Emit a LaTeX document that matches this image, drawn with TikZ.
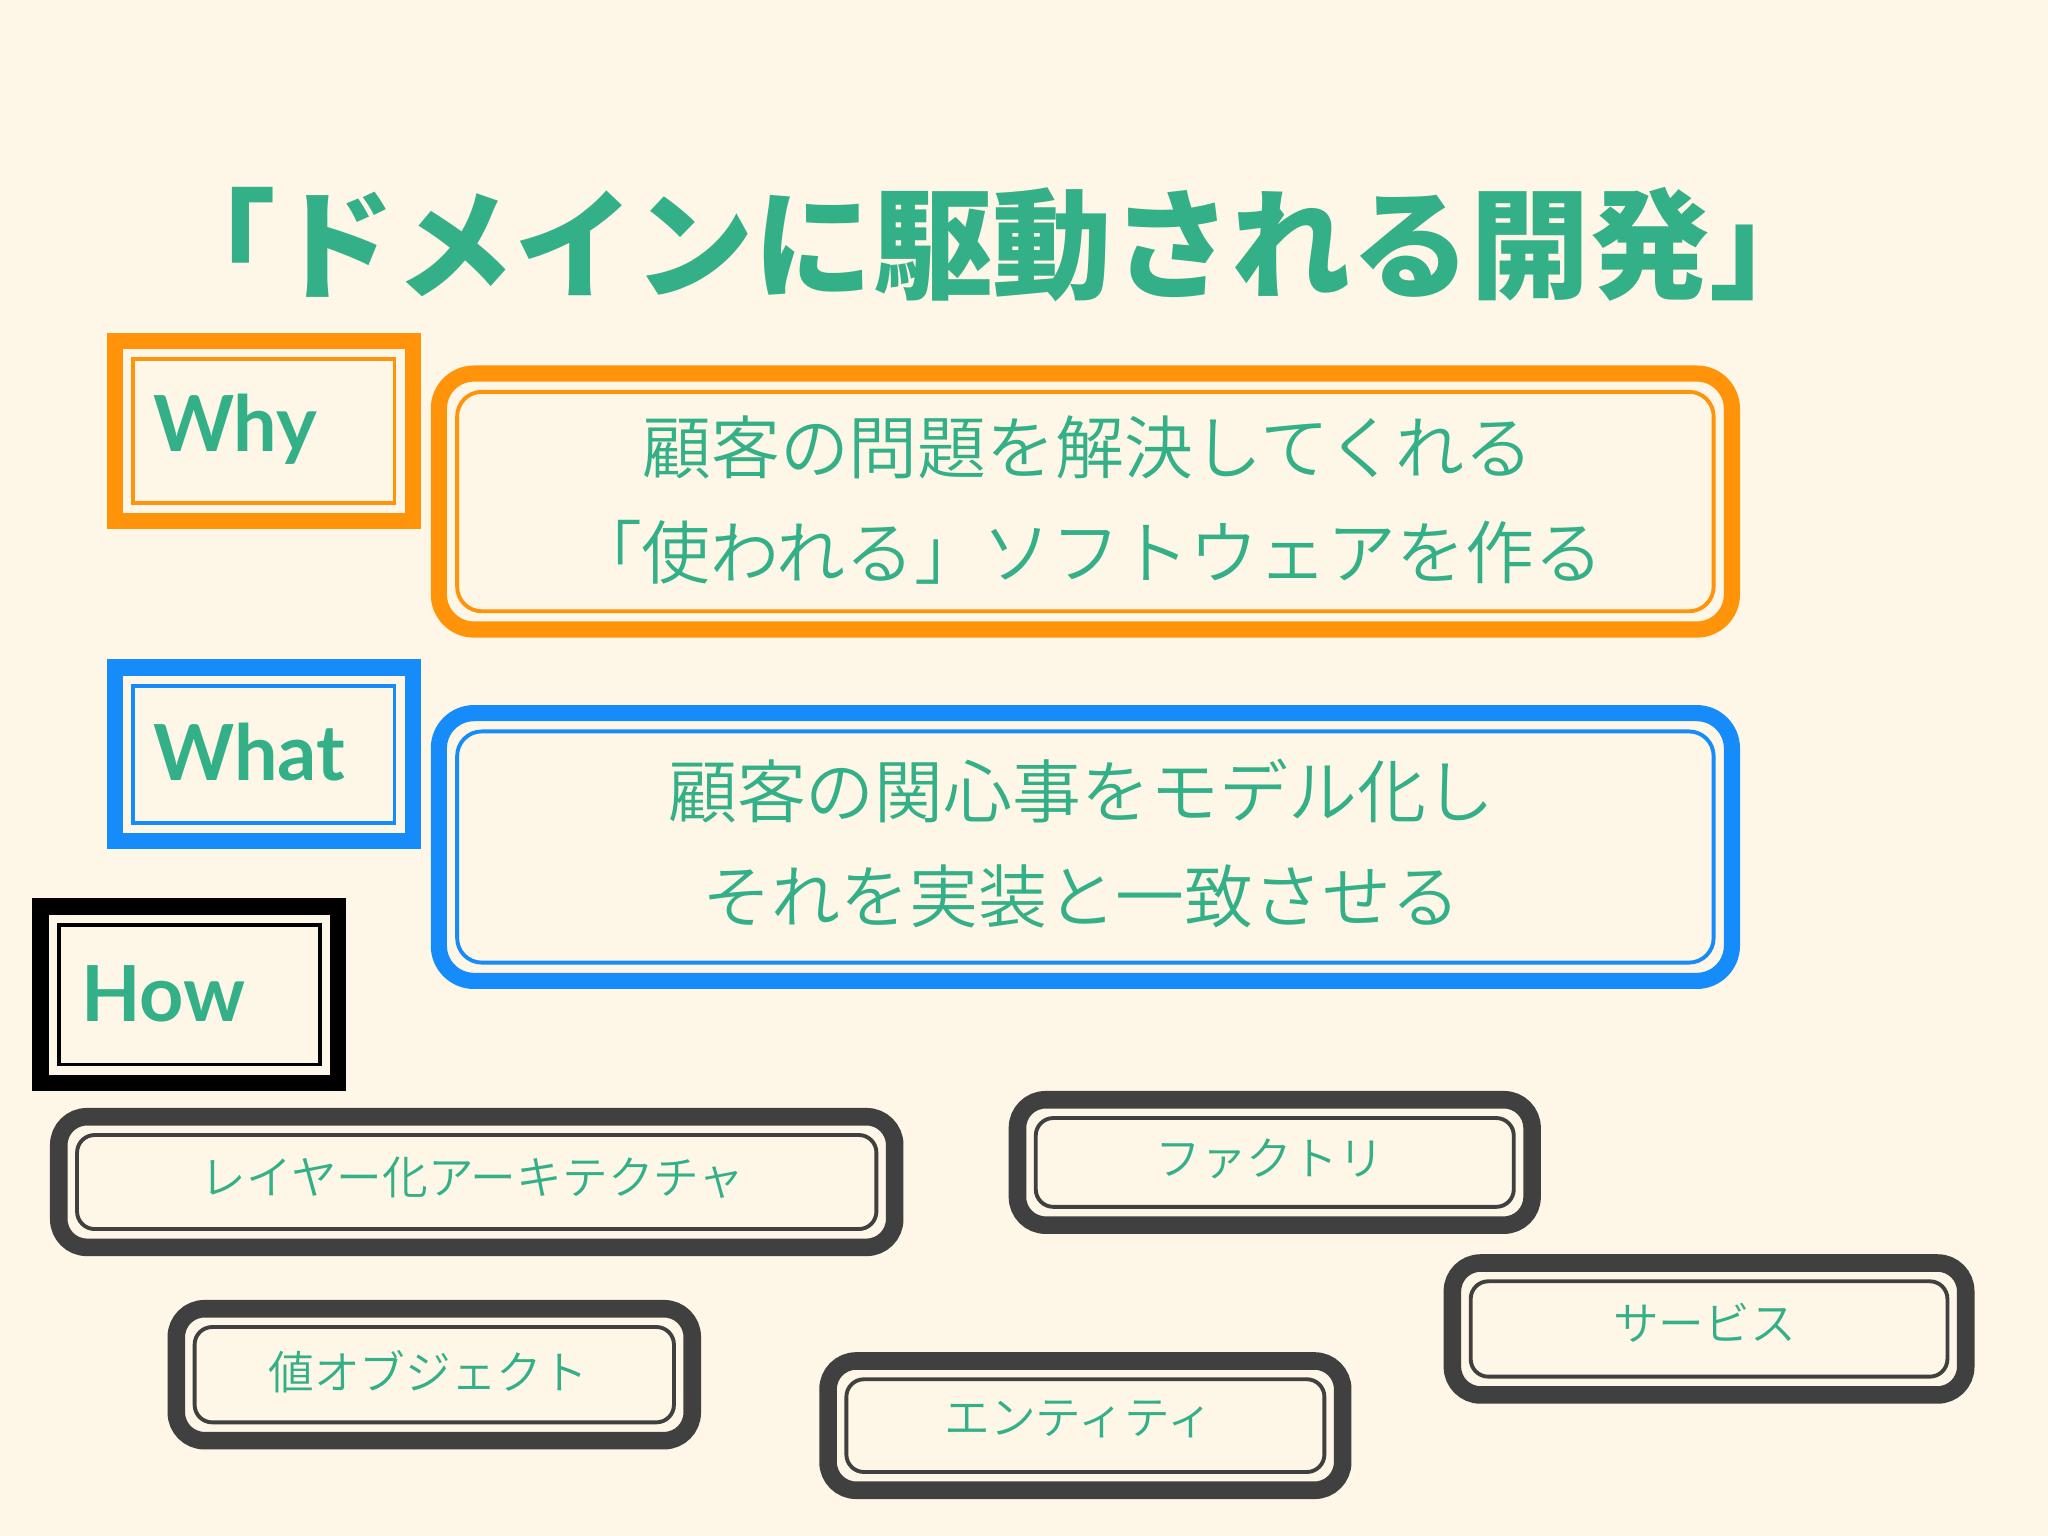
\documentclass[tikz,border=0pt]{standalone}
\usepackage{fontspec}
\newfontfamily\jpfont{Noto Sans CJK JP}
\IfFontExistsTF{Noto Sans CJK JP DemiLight}{\newfontfamily\jplight{Noto Sans CJK JP DemiLight}}{\newfontfamily\jplight{Noto Sans CJK JP Light}}
\setsansfont{Lato}
\definecolor{fond}{RGB}{254,246,230}
\definecolor{vert}{RGB}{52,176,136}
\definecolor{orangeb}{RGB}{255,148,10}
\definecolor{bleu}{RGB}{22,140,250}
\definecolor{gris}{RGB}{64,64,64}
\newcommand{\whycol}{orangeb}
\newcommand{\whatcol}{bleu}
\newcommand{\howcol}{black}

\begin{document}
\begin{tikzpicture}[x=0.013061cm, y=-0.013061cm,
    epais/.style={line width=4.6pt},
    fin/.style={line width=1.1pt},
    mot/.style={text=vert, font=\sffamily\bfseries\fontsize{22}{22}\selectfont},
    phrase/.style={text=vert, align=center, font=\jplight\fontsize{19.6}{30}\selectfont},
    brique/.style={text=vert, font=\jplight\fontsize{13}{13}\selectfont}]

    \fill[fond] (0, 0) rectangle (1568, 1176);

    \node[text=vert, font=\jpfont\bfseries\fontsize{34}{34}\selectfont] (titre) at (760, 187) {「ドメインに駆動される開発」};

    % why / what / how
    \draw[epais, draw=\whycol] (88, 261) rectangle (316, 399);
    \draw[fin, draw=\whycol] (102, 275) rectangle (302, 385);
    \draw[epais, draw=\whatcol] (88, 511) rectangle (316, 644);
    \draw[fin, draw=\whatcol] (102, 525) rectangle (302, 630);
    \draw[epais, draw=\howcol] (31, 694) rectangle (259, 829);
    \draw[fin, draw=\howcol] (45, 708) rectangle (245, 815);
    \node[mot] (why) at (180, 329) {Why};
    \node[mot] (what) at (191, 576) {What};
    \node[mot] (how) at (125, 761) {How};

    \draw[epais, draw=\whycol, rounded corners=10pt] (336, 286) rectangle (1326, 482);
    \draw[fin, draw=\whycol, rounded corners=7pt] (350, 300) rectangle (1312, 468);
    \draw[epais, draw=\whatcol, rounded corners=10pt] (336, 546) rectangle (1326, 751);
    \draw[fin, draw=\whatcol, rounded corners=7pt] (350, 560) rectangle (1312, 737);
    \node[phrase] (whytxt) at (833, 383) {顧客の問題を解決してくれる\\「使われる」ソフトウェアを作る};
    \node[phrase] (whattxt) at (828, 646) {顧客の関心事をモデル化し\\それを実装と一致させる};

    % briques
    \draw[epais, draw=gris, line width=5pt, rounded corners=8pt] (45, 855) rectangle (685, 955);
    \draw[fin, draw=gris, rounded corners=5pt] (59, 869) rectangle (671, 941);
    \draw[epais, draw=gris, line width=5pt, rounded corners=8pt] (779, 842) rectangle (1173, 938);
    \draw[fin, draw=gris, rounded corners=5pt] (793, 856) rectangle (1159, 924);
    \draw[epais, draw=gris, line width=5pt, rounded corners=8pt] (135, 1002) rectangle (530, 1103);
    \draw[fin, draw=gris, rounded corners=5pt] (149, 1016) rectangle (516, 1089);
    \draw[epais, draw=gris, line width=5pt, rounded corners=8pt] (634, 1042) rectangle (1028, 1141);
    \draw[fin, draw=gris, rounded corners=5pt] (648, 1056) rectangle (1014, 1127);
    \draw[epais, draw=gris, line width=5pt, rounded corners=8pt] (1112, 967) rectangle (1505, 1068);
    \draw[fin, draw=gris, rounded corners=5pt] (1126, 981) rectangle (1491, 1054);
    \node[brique] (couches) at (362, 902) {レイヤー化アーキテクチャ};
    \node[brique] (fabrique) at (972, 887) {ファクトリ};
    \node[brique] (valeur) at (328, 1050) {値オブジェクト};
    \node[brique] (entite) at (826, 1087) {エンティティ};
    \node[brique] (service) at (1305, 1013) {サービス};

\end{tikzpicture}
\end{document}
